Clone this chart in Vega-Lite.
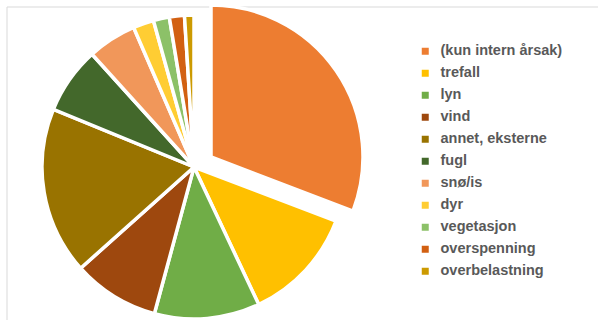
{
  "$schema": "https://vega.github.io/schema/vega-lite/v6.json",
  "width": 600,
  "height": 320,
  "autosize": "none",
  "padding": {"left": 7, "top": 7, "right": 0, "bottom": 0},
  "background": "white",
  "config": {"view": {"stroke": null}},
  "data": {
    "values": [
      {"kategori": "(kun intern årsak)", "andel": 30.8, "rekkefolge": 0},
      {"kategori": "trefall", "andel": 12.2, "rekkefolge": 1},
      {"kategori": "lyn", "andel": 11.2, "rekkefolge": 2},
      {"kategori": "vind", "andel": 9.2, "rekkefolge": 3},
      {"kategori": "annet, eksterne", "andel": 17.8, "rekkefolge": 4},
      {"kategori": "fugl", "andel": 7.1, "rekkefolge": 5},
      {"kategori": "snø/is", "andel": 5.2, "rekkefolge": 6},
      {"kategori": "dyr", "andel": 2.2, "rekkefolge": 7},
      {"kategori": "vegetasjon", "andel": 1.7, "rekkefolge": 8},
      {"kategori": "overspenning", "andel": 1.6, "rekkefolge": 9},
      {"kategori": "overbelastning", "andel": 1.0, "rekkefolge": 10}
    ]
  },
  "layer": [
    {
      "data": {"values": [{"ramme": 1}]},
      "mark": {"type": "rect", "fill": null, "stroke": "#D9D9D9", "strokeWidth": 1},
      "encoding": {
        "x": {"value": 0},
        "x2": {"value": "width"},
        "y": {"value": 0},
        "y2": {"value": "height"}
      }
    },
    {
      "transform": [
        {"stack": "andel", "groupby": [], "sort": [{"field": "rekkefolge", "order": "ascending"}], "as": ["start", "slutt"]}
      ],
      "encoding": {
        "theta": {"field": "start", "type": "quantitative", "scale": {"domain": [0, 100]}},
        "theta2": {"field": "slutt"},
        "color": {
          "field": "kategori",
          "type": "nominal",
          "scale": {
            "domain": ["(kun intern årsak)", "trefall", "lyn", "vind", "annet, eksterne", "fugl", "snø/is", "dyr", "vegetasjon", "overspenning", "overbelastning"],
            "range": ["#ED7D31", "#FFC000", "#70AD47", "#9E480E", "#997300", "#43682B", "#F1975A", "#FFCD33", "#8CC168", "#D26012", "#CC9A00"]
          },
          "legend": {
            "title": null,
            "orient": "none",
            "legendX": 411,
            "legendY": 37,
            "symbolType": "square",
            "symbolSize": 49,
            "symbolStrokeWidth": 0,
            "labelFont": "Liberation Sans",
            "labelFontWeight": "bold",
            "labelFontSize": 14.5,
            "labelColor": "#595959",
            "labelOffset": 8,
            "rowPadding": 7,
            "labelLimit": 300
          }
        }
      },
      "layer": [
        {
          "transform": [{"filter": "datum.rekkefolge > 0"}],
          "mark": {"type": "arc", "x": 187, "y": 160, "outerRadius": 152, "stroke": "white", "strokeWidth": 3.5}
        },
        {
          "transform": [{"filter": "datum.rekkefolge == 0"}],
          "mark": {"type": "arc", "x": 204, "y": 150, "outerRadius": 152, "stroke": "white", "strokeWidth": 3.5}
        }
      ]
    }
  ]
}
